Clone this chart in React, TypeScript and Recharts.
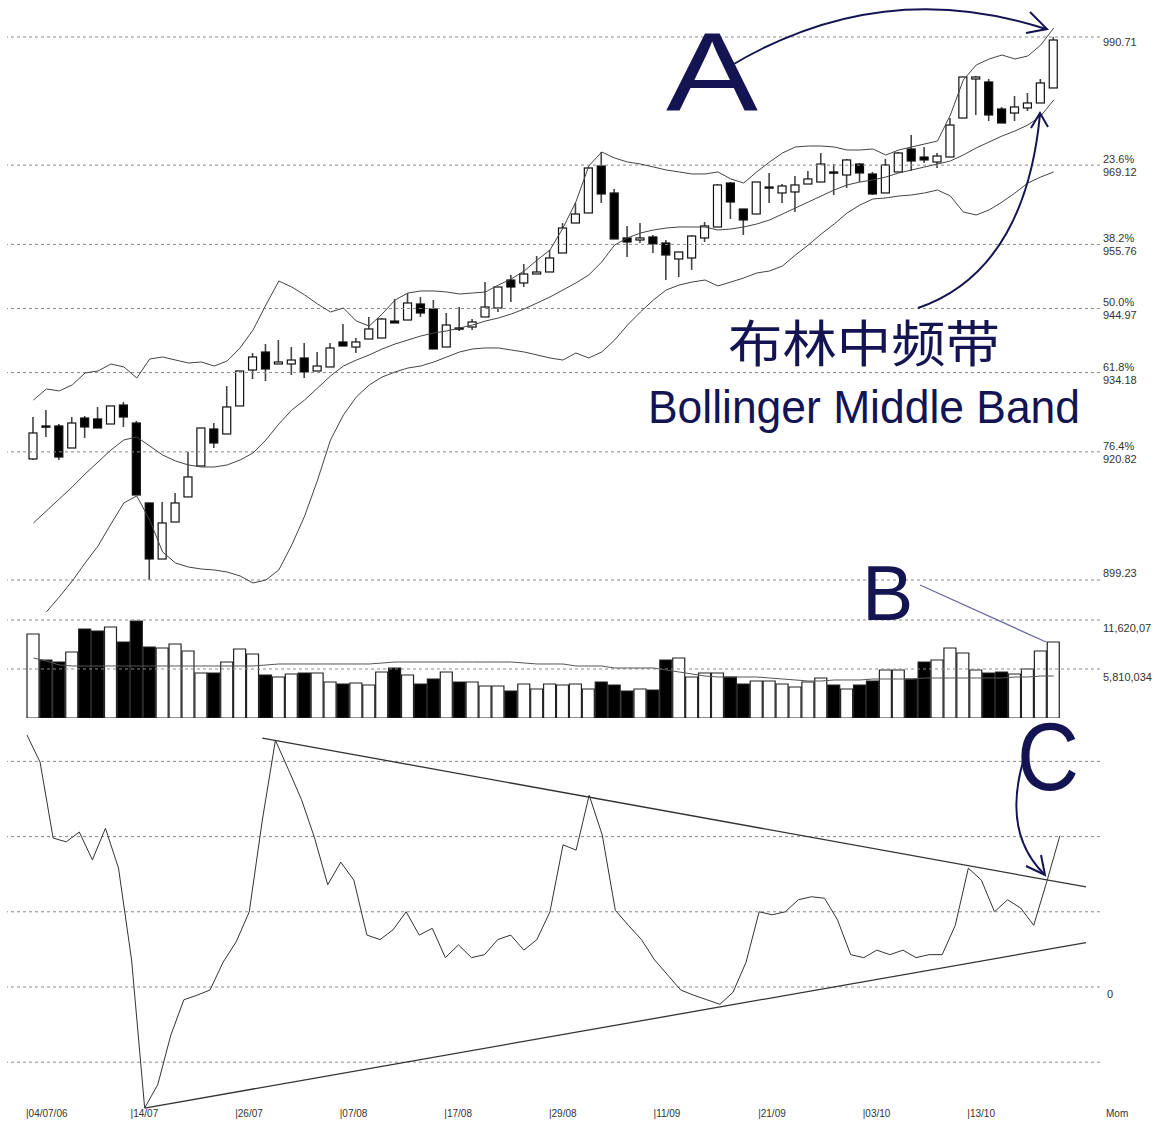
import React from 'react';
import { ComposedChart, Bar, Line, XAxis, YAxis, ReferenceLine, Cell } from 'recharts';

// session ticks (every 8th trading day) and their labels
const tickIdx = [0, 8, 16, 24, 32, 40, 48, 56, 64, 72];
const tickText = ['04/07/06', '14/07', '26/07', '07/08', '17/08', '29/08', '11/09', '21/09', '03/10', '13/10'];

const open = [919.62, 925.18, 925.18, 921.47, 926.52, 926.36, 925.51, 928.71, 925.68, 912.21,
  902.77, 909.0, 913.22, 918.44, 924.67, 923.83, 928.55, 934.61, 937.64, 935.62,
  935.62, 936.63, 934.44, 935.12, 939.33, 938.48, 939.83, 940.0, 942.86, 943.03,
  945.73, 944.89, 938.48, 941.69, 941.85, 943.54, 945.05, 949.77, 949.27, 950.78,
  951.12, 954.32, 959.37, 961.06, 968.98, 964.43, 956.85, 956.51, 957.02, 956.0,
  953.31, 953.48, 956.85, 958.7, 966.11, 961.73, 960.89, 965.27, 964.43, 964.6,
  965.94, 966.28, 967.97, 967.46, 969.31, 967.63, 964.43, 967.97, 971.84, 970.49,
  969.65, 970.49, 977.06, 983.63, 983.13, 978.58, 977.9, 978.75, 979.59, 982.12];
const high = [926.69, 927.87, 925.51, 926.69, 926.86, 928.38, 928.55, 929.22, 926.02, 912.21,
  912.37, 913.89, 920.8, 924.84, 925.68, 931.91, 934.44, 937.47, 938.99, 939.66,
  938.48, 939.16, 937.64, 939.16, 942.36, 940.0, 943.54, 943.37, 946.57, 947.58,
  946.91, 946.4, 944.21, 945.22, 943.2, 949.43, 948.59, 950.61, 952.47, 953.81,
  954.83, 959.37, 962.74, 968.81, 971.33, 965.1, 958.87, 959.37, 957.35, 956.51,
  954.49, 957.35, 959.54, 965.94, 966.28, 961.73, 966.28, 967.8, 965.94, 967.29,
  968.13, 971.17, 969.31, 970.16, 969.48, 967.97, 970.16, 971.33, 974.2, 972.18,
  971.17, 977.06, 983.97, 984.14, 983.63, 978.92, 980.77, 981.27, 983.63, 990.71];
const low = [919.45, 923.32, 919.45, 921.47, 923.16, 924.84, 925.51, 925.01, 913.55, 899.23,
  902.77, 909.0, 913.22, 918.44, 921.47, 923.83, 928.55, 933.09, 932.76, 935.62,
  933.77, 933.26, 934.44, 935.12, 938.65, 937.47, 939.83, 940.0, 942.53, 943.03,
  943.54, 938.15, 938.48, 941.18, 941.35, 943.54, 944.38, 946.07, 948.59, 950.78,
  951.12, 954.32, 959.37, 961.06, 962.74, 956.68, 953.65, 956.0, 954.32, 949.77,
  950.28, 951.46, 956.17, 958.7, 960.05, 957.35, 960.89, 962.74, 962.74, 961.23,
  965.94, 966.28, 964.09, 965.27, 966.28, 964.09, 964.43, 967.97, 968.13, 969.48,
  968.64, 970.49, 977.06, 977.57, 976.56, 976.22, 976.56, 978.24, 979.59, 982.12];
const close = [924.0, 925.01, 919.95, 925.68, 925.01, 924.84, 928.55, 926.69, 913.55, 902.77,
  908.84, 912.21, 916.59, 924.84, 922.31, 928.38, 934.44, 936.8, 934.78, 935.96,
  936.29, 934.27, 935.28, 938.32, 938.65, 939.33, 941.52, 943.2, 942.53, 945.9,
  944.21, 938.15, 942.19, 941.52, 942.7, 945.22, 948.59, 948.59, 950.78, 951.12,
  953.48, 958.53, 960.89, 968.64, 964.26, 956.68, 956.17, 956.85, 955.84, 953.98,
  954.49, 957.18, 958.87, 965.78, 962.91, 959.88, 966.28, 965.44, 965.61, 965.78,
  966.79, 969.31, 967.8, 969.99, 967.8, 964.26, 969.14, 971.17, 969.82, 969.99,
  970.66, 975.88, 983.97, 983.97, 977.57, 976.22, 978.92, 979.59, 982.96, 990.2];

const bbUpper = [929.56, 931.41, 931.08, 932.09, 934.11, 934.44, 935.62, 935.12, 933.26, 936.46,
  936.8, 936.29, 935.79, 935.96, 935.28, 936.13, 938.32, 941.35, 945.56, 949.6,
  948.59, 947.25, 945.73, 944.38, 945.05, 942.86, 942.02, 944.04, 946.4, 947.58,
  947.92, 947.92, 947.75, 947.41, 947.58, 947.75, 948.93, 949.94, 951.29, 953.14,
  954.83, 958.53, 962.91, 968.98, 971.33, 970.32, 969.65, 969.31, 968.81, 968.3,
  967.97, 967.63, 967.63, 967.97, 966.79, 966.11, 967.97, 969.65, 971.17, 972.18,
  972.34, 972.34, 972.18, 971.67, 971.67, 971.84, 970.83, 971.67, 972.18, 972.68,
  973.19, 977.57, 983.46, 985.99, 987.0, 987.67, 987.0, 987.51, 989.36, 992.22];
const bbMiddle = [908.84, 910.86, 912.88, 914.9, 917.09, 919.11, 921.13, 922.82, 923.32, 921.81,
  920.29, 919.28, 918.61, 918.27, 918.27, 918.61, 919.45, 920.63, 922.82, 925.51,
  927.87, 929.56, 931.58, 933.6, 935.28, 936.29, 937.14, 938.15, 938.99, 939.66,
  940.34, 940.84, 941.18, 941.69, 942.19, 942.86, 943.37, 944.04, 944.89, 945.9,
  946.91, 948.09, 949.27, 950.61, 952.8, 955.67, 956.85, 957.69, 958.19, 958.53,
  958.7, 958.7, 958.7, 958.19, 958.36, 958.7, 959.2, 959.88, 960.89, 961.9,
  962.91, 963.92, 964.93, 965.78, 966.28, 966.62, 967.12, 967.8, 968.3, 968.81,
  969.31, 969.82, 970.83, 972.01, 973.02, 974.03, 974.87, 975.88, 977.4, 980.09];
const bbLower = [890.81, 893.84, 896.37, 899.06, 902.09, 904.96, 908.67, 912.21, 913.39, 909.34,
  903.95, 902.09, 901.42, 901.08, 900.92, 900.58, 899.91, 898.73, 899.23, 900.92,
  905.13, 910.01, 916.08, 922.82, 927.03, 930.06, 932.09, 933.43, 934.27, 934.95,
  935.28, 935.96, 936.8, 937.64, 938.15, 938.32, 938.32, 937.98, 937.64, 937.14,
  936.63, 936.29, 937.47, 936.63, 937.64, 939.66, 942.19, 944.38, 946.4, 948.09,
  948.93, 949.43, 949.77, 948.76, 949.43, 950.11, 950.95, 951.29, 952.13, 953.98,
  955.67, 957.52, 959.2, 961.06, 962.41, 963.42, 963.59, 963.92, 964.09, 964.43,
  964.93, 963.92, 961.23, 960.72, 961.57, 962.91, 964.43, 966.11, 967.12, 967.97];

const volume = [9960000, 6877000, 6640000, 7826000, 10553000, 10316000, 10790000, 9011000, 11501000, 8419000,
  8300000, 8774000, 7944000, 5336000, 5336000, 6640000, 8181000, 7589000, 5099000, 4861000,
  5217000, 5336000, 5336000, 4269000, 4031000, 4150000, 3913000, 5454000, 5929000, 5099000,
  4031000, 4624000, 5454000, 4269000, 4269000, 3794000, 3794000, 3201000, 4031000, 3439000,
  4031000, 3913000, 4031000, 3439000, 4269000, 3913000, 3201000, 3439000, 3320000, 6877000,
  7114000, 4861000, 5336000, 5336000, 4861000, 4031000, 4387000, 4387000, 4031000, 3676000,
  4269000, 4743000, 3913000, 3439000, 3913000, 4387000, 5691000, 5691000, 4624000, 6640000,
  6877000, 8300000, 7707000, 5691000, 5336000, 5454000, 5217000, 5810000, 7944000, 9011000];
const volumeAvg = [7114000, 6759000, 6284000, 6166000, 6166000, 6166000, 6166000, 6166000, 6166000, 6166000,
  6166000, 6166000, 6166000, 6166000, 6166000, 6166000, 6166000, 6166000, 6284000, 6403000,
  6403000, 6403000, 6403000, 6403000, 6403000, 6403000, 6403000, 6521000, 6640000, 6640000,
  6640000, 6640000, 6640000, 6640000, 6640000, 6640000, 6640000, 6640000, 6521000, 6403000,
  6403000, 6403000, 6166000, 6166000, 6166000, 5929000, 5929000, 5929000, 5929000, 5691000,
  5454000, 5217000, 4980000, 4861000, 4861000, 4861000, 4861000, 4743000, 4624000, 4506000,
  4387000, 4387000, 4506000, 4506000, 4506000, 4624000, 4624000, 4624000, 4624000, 4743000,
  4743000, 4743000, 4743000, 4743000, 4743000, 4743000, 4861000, 4861000, 4980000, 4980000];

const momentum = [33.5, 29.9, 19.8, 19.3, 20.6, 16.9, 21.1, 15.8, 3.6, -16.1,
  -13.0, -6.4, -1.7, -1.1, -0.4, 3.3, 6.0, 10.0, 22.2, 32.8,
  28.9, 24.9, 19.8, 13.6, 16.6, 14.2, 6.9, 6.3, 7.6, 10.0,
  6.9, 7.8, 3.9, 5.6, 3.9, 4.3, 6.3, 6.9, 4.9, 6.3,
  10.0, 18.9, 18.2, 25.5, 20.2, 10.2, 8.2, 6.3, 3.6, 1.6,
  -0.4, -1.1, -1.7, -2.3, -0.7, 3.3, 10.0, 9.6, 10.0, 11.6,
  12.0, 11.8, 8.9, 4.3, 3.9, 4.9, 4.3, 4.9, 3.9, 4.3,
  4.3, 8.2, 15.8, 14.2, 10.0, 11.6, 10.5, 8.2, 14.0, 20.1];

const priceLevels = [990.71, 969.12, 955.76, 944.97, 934.18, 920.82, 899.23];
const fibLabels = ['', '23.6%', '38.2%', '50.0%', '61.8%', '76.4%', ''];
const volLevels = [11620068, 5810034];
const volLabels = ['11,620,07', '5,810,034'];
const momLevels = [30, 20, 10, 0, -10];

const rows = Array.from({ length: 82 }, (_, i) => ({
  i,
  o: open[i], h: high[i], l: low[i], c: close[i],
  up: bbUpper[i], mid: bbMiddle[i], lo: bbLower[i],
  v: volume[i], va: volumeAvg[i], mom: momentum[i],
}));

const W = 1164;
const pad = { left: 20, right: 14 };
const grid = '#8a8a8a';
const ink = '#141452';
const axisFont = 'Liberation Sans, Arial, sans-serif';

const Candle = (props: any) => {
  const { x, y, width, height, payload } = props;
  if (!payload || payload.o == null) return null;
  const top = Math.min(y, y + height);
  const bot = Math.max(y, y + height);
  const { o, h, l, c } = payload;
  const span = h - l || 1;
  const py = (val: number) => top + ((h - val) / span) * (bot - top);
  const cx = x + width / 2;
  const bTop = py(Math.max(o, c));
  const bBot = py(Math.min(o, c));
  const black = c < o;
  return (
    <g>
      <line x1={cx} x2={cx} y1={top} y2={bot} stroke="#444" strokeWidth={1.6} />
      <rect x={cx - 4} y={bTop} width={8} height={Math.max(bBot - bTop, 1.2)}
        fill={black ? '#000' : '#fff'} stroke="#111" strokeWidth={1.2} />
    </g>
  );
};

const PriceTick = (props: any) => {
  const { x, y, payload } = props;
  const k = priceLevels.indexOf(payload.value);
  const txt = payload.value.toFixed(2);
  const st = { fontFamily: axisFont, fontSize: 11, fill: '#333' };
  if (fibLabels[k]) {
    return (
      <g>
        <text x={x} y={y - 2} {...st}>{fibLabels[k]}</text>
        <text x={x} y={y + 11} {...st}>{txt}</text>
      </g>
    );
  }
  return <text x={x} y={k === 0 ? y + 9 : y - 3} {...st}>{txt}</text>;
};

const VolTick = (props: any) => {
  const { x, y, payload } = props;
  const k = volLevels.indexOf(payload.value);
  return <text x={x} y={y + 12} fontFamily={axisFont} fontSize={11} fill="#333">{volLabels[k]}</text>;
};

const MomTick = (props: any) => {
  const { x, y, payload } = props;
  if (payload.value !== 0) return null;
  return <text x={x + 4} y={y + 11} fontFamily={axisFont} fontSize={11} fill="#333">0</text>;
};

const DateTick = (props: any) => {
  const { x, y, payload } = props;
  const k = tickIdx.indexOf(payload.value);
  if (k < 0) return null;
  return <text x={x - 1} y={y + 5} fontFamily={axisFont} fontSize={10} fill="#333">{'|' + tickText[k]}</text>;
};

const App = () => (
  <div style={{ position: 'absolute', left: 0, top: 0, width: W, height: 1121, background: '#fff', overflow: 'hidden' }}>
    <div style={{ position: 'absolute', left: 0, top: 0 }}>
      <ComposedChart width={W} height={612} data={rows} margin={{ top: 0, right: 0, bottom: 0, left: 7 }}>
        <XAxis dataKey="i" type="category" hide padding={pad} />
        <YAxis orientation="right" width={64} domain={[893.84, 996.94]} allowDataOverflow ticks={priceLevels}
          interval={0} tick={PriceTick} axisLine={false} tickLine={false} tickSize={0} tickMargin={3} />
        {priceLevels.map((v) => (
          <ReferenceLine key={v} y={v} stroke={grid} strokeDasharray="3 3" />
        ))}
        <Line dataKey="up" stroke="#444" strokeWidth={1} dot={false} isAnimationActive={false} />
        <Line dataKey="mid" stroke="#444" strokeWidth={1} dot={false} isAnimationActive={false} />
        <Line dataKey="lo" stroke="#444" strokeWidth={1} dot={false} isAnimationActive={false} />
        <Bar dataKey={(d: any) => (d.o == null ? undefined : [d.l, d.h])} barSize={8}
          shape={Candle} isAnimationActive={false} />
      </ComposedChart>
    </div>

    <div style={{ position: 'absolute', left: 0, top: 612 }}>
      <ComposedChart width={W} height={106} data={rows} margin={{ top: 0, right: 0, bottom: 0, left: 7 }} barCategoryGap={0}>
        <XAxis dataKey="i" type="category" hide padding={pad} />
        <YAxis orientation="right" width={64} domain={[0, 12568632]} ticks={volLevels} interval={0}
          tick={VolTick} axisLine={false} tickLine={false} tickSize={0} tickMargin={3} />
        {volLevels.map((v) => (
          <ReferenceLine key={v} y={v} stroke={grid} strokeDasharray="3 3" />
        ))}
        <Bar dataKey="v" barSize={12} isAnimationActive={false}>
          {rows.map((r) => (
            <Cell key={r.i} fill={r.c != null && r.c < r.o ? '#000' : '#fff'} stroke="#222" strokeWidth={1.2} />
          ))}
        </Bar>
        <Line dataKey="va" stroke="#555" strokeWidth={1} dot={false} isAnimationActive={false} />
      </ComposedChart>
    </div>

    <div style={{ position: 'absolute', left: 0, top: 718 }}>
      <ComposedChart width={W} height={412} data={rows} margin={{ top: 10, right: 0, bottom: 0, left: 7 }}>
        <XAxis dataKey="i" type="category" padding={pad} interval={0} tick={DateTick}
          axisLine={false} tickLine={false} tickSize={0} tickMargin={2} height={20} />
        <YAxis orientation="right" width={64} domain={[-16.36, 34.44]} allowDataOverflow ticks={momLevels}
          interval={0} tick={MomTick} axisLine={false} tickLine={false} tickSize={0} tickMargin={3} />
        {momLevels.map((v) => (
          <ReferenceLine key={v} y={v} stroke={grid} strokeDasharray="3 3" />
        ))}
        <ReferenceLine segment={[{ x: 18, y: 33.1 }, { x: 81, y: 13.3 }]} stroke="#333" strokeWidth={1.3} ifOverflow="visible" />
        <ReferenceLine segment={[{ x: 9, y: -16.1 }, { x: 81, y: 5.9 }]} stroke="#333" strokeWidth={1.3} ifOverflow="visible" />
        <Line dataKey="mom" stroke="#333" strokeWidth={1} dot={false} isAnimationActive={false} />
      </ComposedChart>
    </div>

    <svg width={W} height={1121} style={{ position: 'absolute', left: 0, top: 0, pointerEvents: 'none' }}>
      <text x={1106} y={1117} fontFamily={axisFont} fontSize={10} fill="#333">Mom</text>
      <text x={666} y={110} fontFamily={axisFont} fontSize={112} fill={ink} textLength={92} lengthAdjust="spacingAndGlyphs">A</text>
      <text x={862} y={620} fontFamily={axisFont} fontSize={77} fill={ink}>B</text>
      <text x={1017} y={790} fontFamily={axisFont} fontSize={96} fill={ink} textLength={62} lengthAdjust="spacingAndGlyphs">C</text>
      <text x={728} y={362} fontFamily="Noto Sans CJK SC, sans-serif" fontSize={50} fill={ink} textLength={272} lengthAdjust="spacingAndGlyphs">布林中频带</text>
      <text x={648} y={423} fontFamily={axisFont} fontSize={47} fill={ink} textLength={432} lengthAdjust="spacingAndGlyphs">Bollinger Middle Band</text>
      <g fill="none" stroke={ink} strokeWidth={2}>
        <path d="M727,68 Q880,-25 1046,29" />
        <path d="M1030,12 L1047,29 L1026,33" />
        <path d="M918,308 C1000,280 1032,200 1040,114" />
        <path d="M1031,128 L1040,113 L1048,127" />
        <path d="M1026,752 Q1000,830 1044,874" />
        <path d="M1026,866 L1045,875 L1041,855" />
      </g>
      <path d="M920,585 L1046,642" stroke="#6a6aa0" strokeWidth={1.3} fill="none" />
    </svg>
  </div>
);

export default App;
